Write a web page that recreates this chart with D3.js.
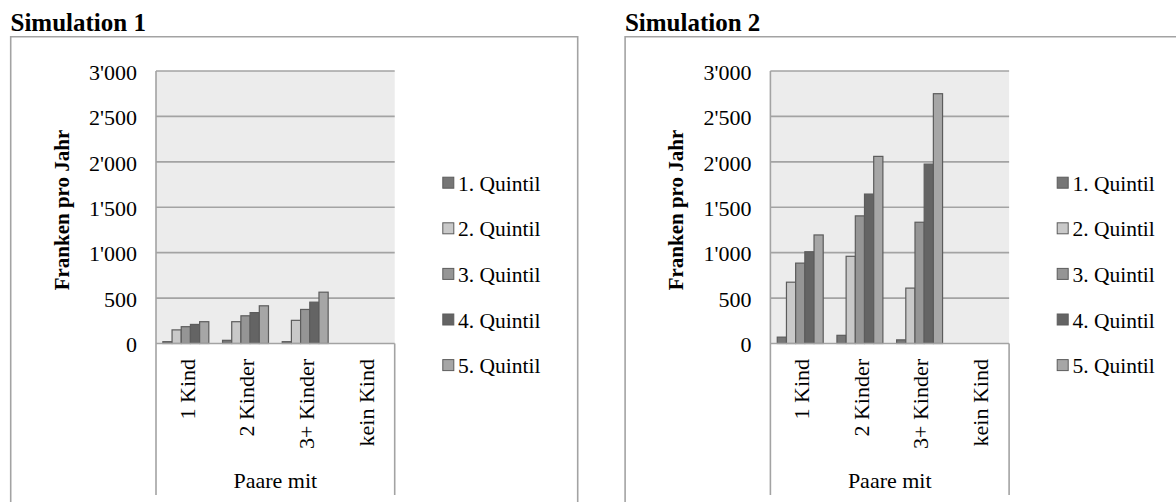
<!DOCTYPE html>
<html>
<head>
<meta charset="utf-8">
<script src="https://cdn.jsdelivr.net/npm/d3@7"></script>
<style>
  html, body { margin: 0; padding: 0; background: #ffffff; }
  svg { display: block; }
</style>
</head>
<body>
<svg id="chart" width="1176" height="502"></svg>
<script>
// ---------------- data ----------------
const chartTitles = ["Simulation 1", "Simulation 2"];
const categories = ["1 Kind", "2 Kinder", "3+ Kinder", "kein Kind"];
const groupLabel = "Paare mit";
const yTitle = "Franken pro Jahr";
const seriesNames = ["1. Quintil", "2. Quintil", "3. Quintil", "4. Quintil", "5. Quintil"];
const yTicks = [0, 500, 1000, 1500, 2000, 2500, 3000];

// values per series, one entry per category (null = no bar)
const sim1Q1 = [20, 35, 20, null];
const sim1Q2 = [150, 240, 255, null];
const sim1Q3 = [185, 305, 375, null];
const sim1Q4 = [210, 340, 455, null];
const sim1Q5 = [240, 415, 565, null];

const sim2Q1 = [70, 90, 40, null];
const sim2Q2 = [675, 960, 610, null];
const sim2Q3 = [885, 1405, 1335, null];
const sim2Q4 = [1010, 1645, 1975, null];
const sim2Q5 = [1195, 2060, 2750, null];

const simSeries = [
  [sim1Q1, sim1Q2, sim1Q3, sim1Q4, sim1Q5],
  [sim2Q1, sim2Q2, sim2Q3, sim2Q4, sim2Q5]
];

// ---------------- styling ----------------
const colors = ["#767676", "#c9c9c9", "#959595", "#646464", "#a6a6a6"];
const barStroke = "#5c5c5c";
const gridColor = "#a3a3a3";
const frameColor = "#a3a3a3";
const plotBg = "#ececec";
const font = "'Liberation Serif', 'Times New Roman', serif";

const svg = d3.select("#chart");
const locale = d3.formatLocale({decimal: ".", thousands: "'", grouping: [3], currency: ["", ""]});
const fmt = locale.format(",");

const panelOffsets = [0, 614.4];

function drawPanel(idx) {
  const ox = panelOffsets[idx];
  const g = svg.append("g").attr("transform", `translate(${ox},0)`);

  const plot = {left: 156, right: 394.7, top: 71, bottom: 343.5};

  // title
  g.append("text")
    .attr("x", 10.5).attr("y", 30.7)
    .attr("font-family", font).attr("font-weight", "bold").attr("font-size", 25)
    .attr("fill", "#000")
    .text(chartTitles[idx]);

  // frame (bottom edge runs off the picture)
  g.append("path")
    .attr("d", `M10.7,520 L10.7,36.7 L577.7,36.7 L577.7,520`)
    .attr("fill", "none").attr("stroke", frameColor).attr("stroke-width", 1.6);

  const y = d3.scaleLinear().domain([0, 3000]).range([plot.bottom, plot.top]);
  const x0 = d3.scaleBand().domain(categories).range([plot.left, plot.right]).padding(0);
  const gap = x0.bandwidth() * 0.23;
  const x1 = d3.scaleBand().domain(seriesNames).range([gap / 2, x0.bandwidth() - gap / 2]).padding(0);

  // plot background
  g.append("rect")
    .attr("x", plot.left).attr("y", plot.top)
    .attr("width", plot.right - plot.left).attr("height", plot.bottom - plot.top)
    .attr("fill", plotBg);

  // gridlines
  g.append("g").selectAll("line").data(yTicks.filter(t => t > 0)).join("line")
    .attr("x1", plot.left).attr("x2", plot.right)
    .attr("y1", d => y(d)).attr("y2", d => y(d))
    .attr("stroke", gridColor).attr("stroke-width", 1.6);

  // y axis line
  g.append("line")
    .attr("x1", plot.left).attr("x2", plot.left)
    .attr("y1", plot.top).attr("y2", 495)
    .attr("stroke", gridColor).attr("stroke-width", 1.6);
  // right separator of category axis
  g.append("line")
    .attr("x1", plot.right).attr("x2", plot.right)
    .attr("y1", plot.bottom).attr("y2", 495)
    .attr("stroke", gridColor).attr("stroke-width", 1.6);

  // y tick labels
  g.append("g").selectAll("text").data(yTicks).join("text")
    .attr("x", 137).attr("y", d => y(d) + 8.8)
    .attr("text-anchor", "end")
    .attr("font-family", font).attr("font-size", 22).attr("fill", "#000")
    .text(d => fmt(d));

  // y title
  g.append("text")
    .attr("transform", "translate(69,210) rotate(-90)")
    .attr("text-anchor", "middle")
    .attr("font-family", font).attr("font-weight", "bold").attr("font-size", 21)
    .attr("fill", "#000")
    .text(yTitle);

  // bars
  const series = simSeries[idx];
  const barData = [];
  series.forEach((vals, si) => {
    vals.forEach((v, ci) => {
      if (v !== null) barData.push({cat: categories[ci], s: seriesNames[si], si, v});
    });
  });
  g.append("g").selectAll("rect").data(barData).join("rect")
    .attr("x", d => x0(d.cat) + x1(d.s))
    .attr("width", x1.bandwidth())
    .attr("y", d => y(d.v))
    .attr("height", d => y(0) - y(d.v))
    .attr("fill", d => colors[d.si])
    .attr("stroke", barStroke).attr("stroke-width", 1.2);

  // zero / category axis line
  g.append("line")
    .attr("x1", plot.left).attr("x2", plot.right)
    .attr("y1", y(0)).attr("y2", y(0))
    .attr("stroke", gridColor).attr("stroke-width", 1.6);

  // category labels (rotated)
  g.append("g").selectAll("text").data(categories).join("text")
    .attr("transform", d => `translate(${x0(d) + x0.bandwidth() / 2 + 1.5},359) rotate(-90)`)
    .attr("text-anchor", "end")
    .attr("dy", "0.33em")
    .attr("font-family", font).attr("font-size", 22).attr("fill", "#000")
    .text(d => d);

  // group label
  g.append("text")
    .attr("x", (plot.left + plot.right) / 2).attr("y", 488)
    .attr("text-anchor", "middle")
    .attr("font-family", font).attr("font-size", 22).attr("fill", "#000")
    .text(groupLabel);

  // legend
  const lg = g.append("g").selectAll("g").data(seriesNames).join("g")
    .attr("transform", (d, i) => `translate(442.3,${182.7 + i * 45.6})`);
  lg.append("rect")
    .attr("x", 0.5).attr("y", -5.5).attr("width", 11).attr("height", 11)
    .attr("fill", (d, i) => colors[i])
    .attr("stroke", barStroke).attr("stroke-width", 1);
  lg.append("text")
    .attr("x", 15.7).attr("y", 8)
    .attr("font-family", font).attr("font-size", 21.5).attr("fill", "#000")
    .text(d => d);
}

drawPanel(0);
drawPanel(1);
</script>
</body>
</html>
